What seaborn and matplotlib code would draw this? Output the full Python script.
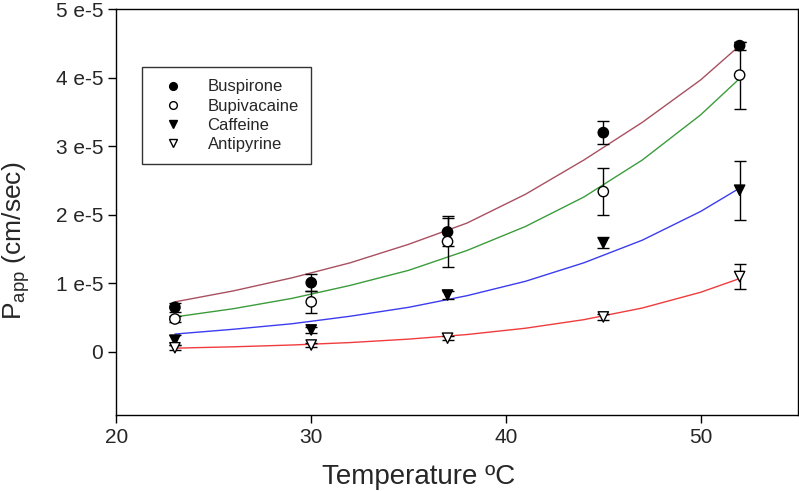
import seaborn as sns
import matplotlib.pyplot as plt
import pandas as pd

# measured permeability (x 1e-5 cm/sec)
temps = [23, 30, 37, 45, 52]
compounds = ['Buspirone', 'Bupivacaine', 'Caffeine', 'Antipyrine']
buspirone = [0.65, 1.01, 1.75, 3.20, 4.47]
buspirone_err = [0.07, 0.12, 0.20, 0.17, 0.06]
bupivacaine = [0.48, 0.73, 1.61, 2.34, 4.04]
bupivacaine_err = [0.05, 0.16, 0.37, 0.34, 0.49]
caffeine = [0.17, 0.32, 0.83, 1.59, 2.36]
caffeine_err = [0.07, 0.04, 0.06, 0.08, 0.43]
antipyrine = [0.06, 0.10, 0.20, 0.51, 1.10]
antipyrine_err = [0.04, 0.03, 0.03, 0.05, 0.18]

# fitted curves
fit_temps = [23, 26, 29, 32, 35, 38, 41, 44, 47, 50, 52]
buspirone_fit = [0.73, 0.89, 1.08, 1.30, 1.57, 1.88, 2.30, 2.80, 3.35, 3.97, 4.47]
bupivacaine_fit = [0.51, 0.63, 0.78, 0.97, 1.19, 1.48, 1.83, 2.26, 2.80, 3.46, 3.99]
caffeine_fit = [0.26, 0.33, 0.41, 0.52, 0.65, 0.82, 1.03, 1.30, 1.63, 2.05, 2.39]
antipyrine_fit = [0.054, 0.074, 0.10, 0.136, 0.186, 0.253, 0.345, 0.47, 0.64, 0.87, 1.07]

values = [buspirone, bupivacaine, caffeine, antipyrine]
errors = [buspirone_err, bupivacaine_err, caffeine_err, antipyrine_err]
fits = [buspirone_fit, bupivacaine_fit, caffeine_fit, antipyrine_fit]

line_colors = {'Buspirone': '#a85060', 'Bupivacaine': '#3c9c3c',
               'Caffeine': '#3c3cf0', 'Antipyrine': '#f03c3c'}
face_colors = {'Buspirone': 'black', 'Bupivacaine': 'white',
               'Caffeine': 'black', 'Antipyrine': 'white'}
markers = {'Buspirone': 'o', 'Bupivacaine': 'o', 'Caffeine': 'v', 'Antipyrine': 'v'}

pts = pd.DataFrame({
    'temp': temps * 4,
    'papp': [v * 1e-5 for vals in values for v in vals],
    'err': [e * 1e-5 for errs in errors for e in errs],
    'compound': [c for c in compounds for _ in temps],
})
curves = pd.DataFrame({
    'temp': fit_temps * 4,
    'papp': [v * 1e-5 for f in fits for v in f],
    'compound': [c for c in compounds for _ in fit_temps],
})

sns.set_style('ticks')
plt.rcParams['font.family'] = ['Liberation Sans', 'DejaVu Sans']
plt.rcParams['mathtext.fontset'] = 'custom'
plt.rcParams['mathtext.rm'] = 'Liberation Sans'

fig = plt.figure(figsize=(7.99, 4.91), dpi=100)
ax = fig.add_axes([0.1458, 0.155, 0.8530, 0.826])

sns.lineplot(data=curves, x='temp', y='papp', hue='compound', palette=line_colors,
             linewidth=1.0, legend=False, ax=ax, zorder=2)
for c in compounds:
    d = pts[pts['compound'] == c]
    ax.errorbar(d['temp'], d['papp'], yerr=d['err'], fmt='none', ecolor='black',
                elinewidth=1.0, capsize=4.5, capthick=1.0, zorder=3)
sns.scatterplot(data=pts, x='temp', y='papp', hue='compound', style='compound',
                palette=face_colors, markers=markers, edgecolor='black',
                linewidth=1.0, s=55, ax=ax, zorder=4)

ax.set_xlim(20, 55)
ax.set_ylim(-0.92e-5, 5e-5)
ax.set_xticks([20, 30, 40, 50])
ax.set_yticks([0, 1e-5, 2e-5, 3e-5, 4e-5, 5e-5])
ax.set_yticklabels(['0', '1 e-5', '2 e-5', '3 e-5', '4 e-5', '5 e-5'])
ax.tick_params(labelsize=15, length=6, width=1, direction='out', color='black')
for s in ax.spines.values():
    s.set_linewidth(1.0)
    s.set_color('black')

ax.set_xlabel('Temperature ºC', fontsize=20)
ax.set_ylabel(r'P$_{\mathrm{app}}$ (cm/sec)', fontsize=19)
ax.xaxis.set_label_coords(0.443, -0.12)
ax.yaxis.set_label_coords(-0.124, 0.43)

handles, labels = ax.get_legend_handles_labels()
leg = ax.legend(handles, labels, loc='upper left', bbox_to_anchor=(0.037, 0.858),
                borderaxespad=0, fontsize=12, frameon=True, fancybox=False,
                edgecolor='black', markerscale=0.75, handletextpad=1.0,
                borderpad=0.75, labelspacing=0.25, handlelength=2.2)
leg.get_frame().set_linewidth(1.0)

fig.savefig('out.png', dpi=100)
